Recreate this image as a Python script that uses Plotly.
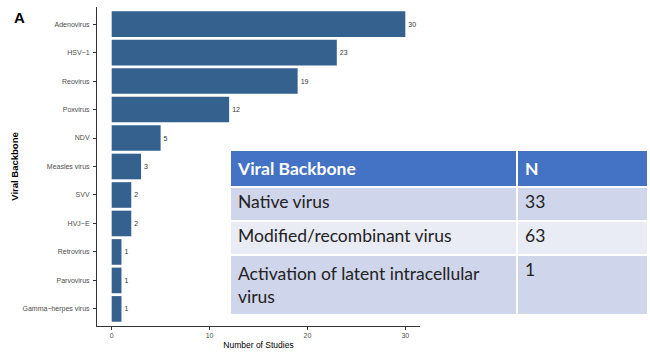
import plotly.graph_objects as go

viruses = ["Adenovirus", "HSV\u22121", "Reovirus", "Poxvirus", "NDV", "Measles virus",
           "SVV", "HVJ\u2212E", "Retrovirus", "Parvovirus", "Gamma\u2212herpes virus"]
studies = [30, 23, 19, 12, 5, 3, 2, 2, 1, 1, 1]

table_header = ["Viral Backbone", "N"]
table_types = ["Native virus", "Modified/recombinant virus", "Activation of latent intracellular<br>virus"]
table_n = ["33", "63", "1"]

W, H = 650, 359
ml, mr, mt, mb = 97, 2, 7, 33
pw = W - ml - mr
ph = H - mt - mb

fig = go.Figure()
fig.add_trace(go.Bar(
    x=studies, y=viruses, orientation="h",
    marker=dict(color="#35618F", line=dict(width=0)),
    width=0.9,
    text=[str(v) for v in studies], textposition="outside",
    textfont=dict(size=7, color="#333333", family="Liberation Sans"),
    cliponaxis=False, showlegend=False, hoverinfo="skip",
))

fig.add_trace(go.Table(
    domain=dict(x=[(230 - ml) / pw, 1.0], y=[0.0, (H - mb - 150) / ph]),
    columnwidth=[287, 131],
    header=dict(values=["<b>%s</b>" % h for h in table_header],
                fill_color="#4472C4", align="left", height=33,
                line=dict(color="white", width=2),
                font=dict(color="white", size=17.5, family="Lato")),
    cells=dict(values=[table_types, table_n],
               fill_color=[["#CFD5EA", "#E9EBF5", "#CFD5EA"]] * 2,
               align="left", height=34,
               line=dict(color="white", width=2),
               font=dict(color="#222222", size=17.5, family="Lato")),
))

fig.update_layout(
    width=W, height=H,
    margin=dict(l=ml, r=mr, t=mt, b=mb, autoexpand=False),
    paper_bgcolor="white", plot_bgcolor="white",
    bargap=0.1,
    xaxis=dict(domain=[0, (420 - ml) / pw], range=[-1.5, 31.5], automargin=False,
               tickvals=[0, 10, 20, 30], showgrid=False, zeroline=False,
               showline=True, linecolor="#333333", linewidth=1,
               ticks="outside", ticklen=3, tickcolor="#333333",
               tickfont=dict(size=7, color="#4D4D4D", family="Liberation Sans"),
               title=dict(text="Number of Studies", standoff=3,
                          font=dict(size=8.5, color="black", family="Liberation Sans"))),
    yaxis=dict(categoryorder="array", categoryarray=viruses[::-1], automargin=False,
               range=[-0.6, 10.6], showgrid=False, zeroline=False,
               showline=True, linecolor="#333333", linewidth=1,
               ticks="outside", ticklen=3, tickcolor="#333333", ticklabelstandoff=2,
               tickfont=dict(size=7, color="#4D4D4D", family="Liberation Sans"),
               title=dict(text="<b>Viral Backbone</b>", standoff=2,
                          font=dict(size=9.5, color="black", family="Liberation Sans"))),
    annotations=[dict(text="<b>A</b>", xref="paper", yref="paper", x=-0.155, y=1.0,
                      xanchor="left", yanchor="top", showarrow=False,
                      font=dict(size=15, color="black", family="Liberation Sans"))],
)

fig.write_html("out.html", config={"displayModeBar": False},
               post_script="document.body.style.margin='0';document.body.style.overflow='hidden';")
